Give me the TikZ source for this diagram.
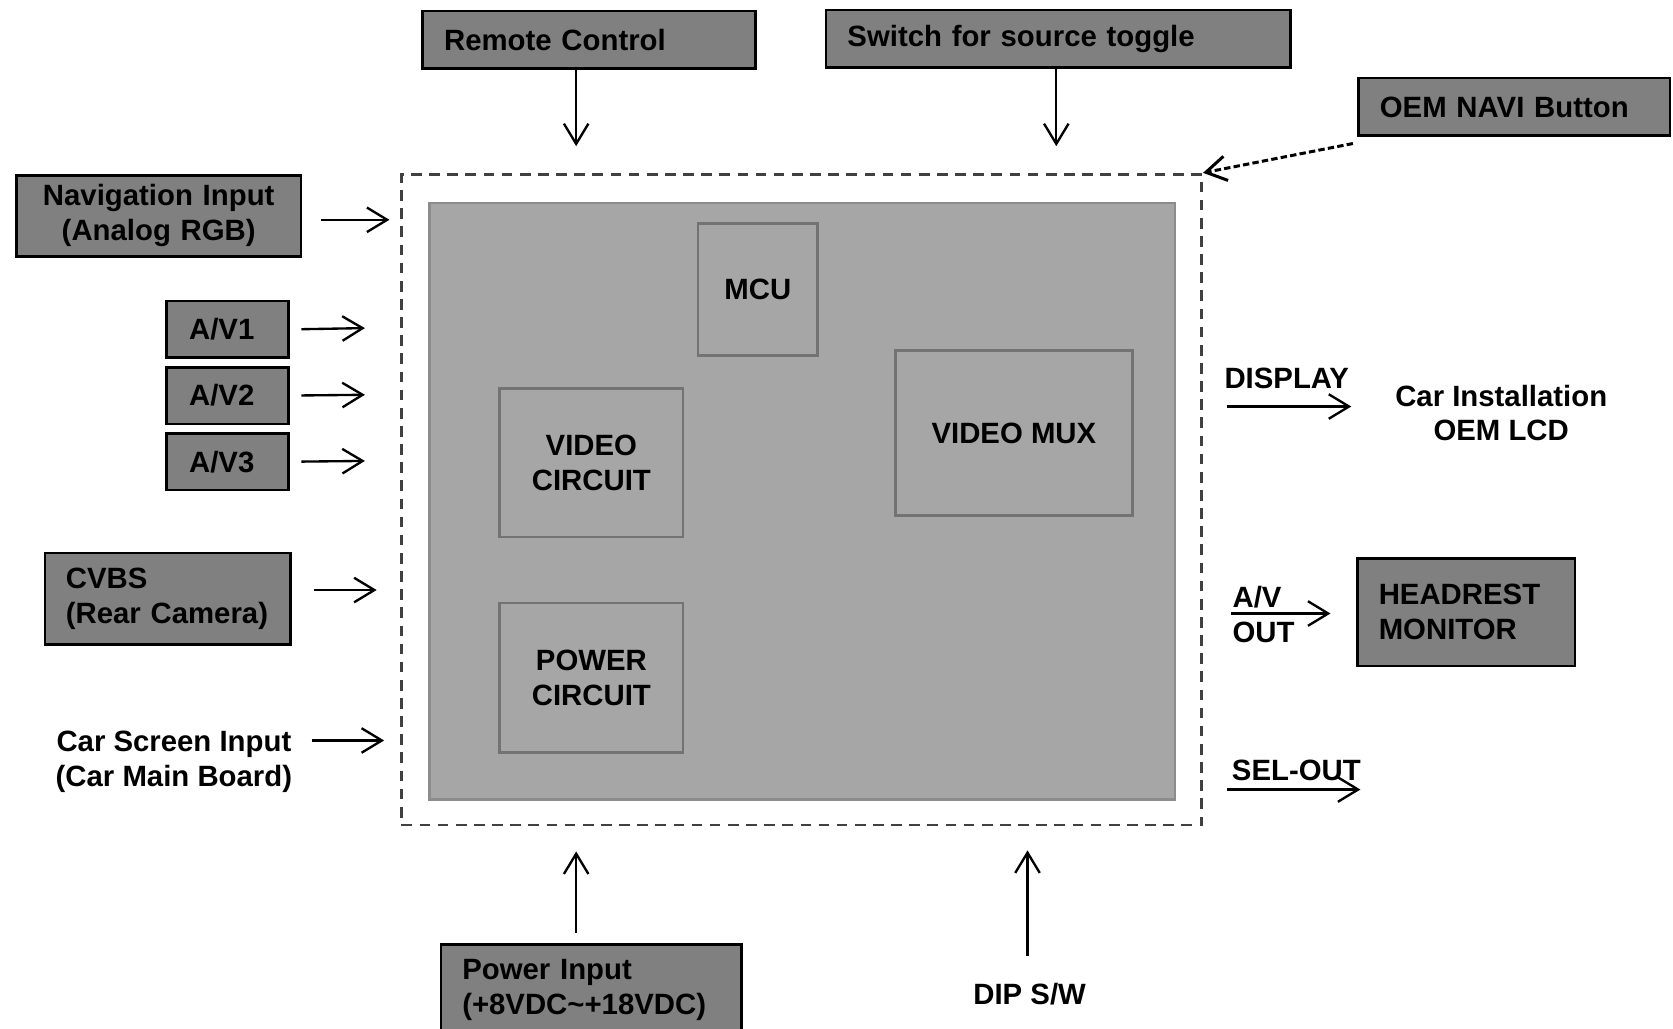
\documentclass[tikz,border=0pt]{standalone}
\usepackage{fontspec}
\setmainfont{Liberation Sans}
\usetikzlibrary{arrows.meta}
\definecolor{boxgray}{HTML}{808080}
\definecolor{boardgray}{HTML}{A6A6A6}
\definecolor{edgegray}{HTML}{737373}
\definecolor{rimgray}{HTML}{8C8C8C}
\definecolor{dashgray}{HTML}{404040}
\begin{document}
\begin{tikzpicture}[x=1pt, y=-1pt, font=\fontsize{27.5}{32.5}\selectfont\bfseries, >={Straight Barb[length=19pt, width=23pt]},
  srcbox/.style={draw=black, line width=2.5pt, fill=boxgray, anchor=north west, inner xsep=20pt, inner ysep=0pt, align=left},
  block/.style={draw=edgegray, line width=2.5pt, fill=boardgray, anchor=north west, align=center, inner sep=0pt},
  lbl/.style={inner sep=0pt, align=center},
  arr/.style={->, line width=2.2pt},
  dasharr/.style={->, line width=2.8pt, dash pattern=on 6pt off 3pt}]
\useasboundingbox (0,0) rectangle (1568,964);
\clip (0,0) rectangle (1568,964);
\node[draw=dashgray, line width=2.5pt, dash pattern=on 10pt off 7pt, anchor=north west, minimum width=750pt, minimum height=610pt] (unit) at (375,162) {};
\node[draw=rimgray, line width=2.5pt, fill=boardgray, anchor=north west, minimum width=699pt, minimum height=559pt] (board) at (401,189) {};
\node[block, minimum width=112pt, minimum height=124pt] (mcu) at (653,208) {MCU};
\node[block, minimum width=172pt, minimum height=139pt] (vidc) at (467,363) {VIDEO\\CIRCUIT};
\node[block, minimum width=172pt, minimum height=140pt] (pwrc) at (467,564) {POWER\\CIRCUIT};
\node[block, minimum width=222pt, minimum height=155pt] (mux) at (838,327) {VIDEO MUX};
\node[srcbox, text width=272pt, minimum height=54pt] (remote) at (395,9) {Remote Control};
\node[srcbox, text width=395pt, minimum height=54pt] (switch) at (773,8) {Switch for source toggle};
\node[srcbox, text width=252pt, minimum height=54pt] (navi) at (1272,72) {OEM NAVI Button};
\node[srcbox, inner xsep=14pt, text width=239pt, minimum height=76pt, align=center] (nav) at (14,163) {Navigation Input\\(Analog RGB)};
\node[srcbox, text width=191pt, inner xsep=19.5pt, minimum height=86pt] (cvbs) at (41,517) {CVBS\\(Rear Camera)};
\node[srcbox, text width=242pt, minimum height=85pt] (power) at (412,884) {Power Input\\(+8VDC\textasciitilde+18VDC)};
\node[srcbox, text width=164pt, minimum height=101pt] (head) at (1271,522) {HEADREST\\MONITOR};
\node[lbl] (carscr) at (163,714) {Car Screen Input\\(Car Main Board)};
\node[lbl] (dip) at (965,932) {DIP S/W};
\node[lbl] (disp) at (1206,355) {DISPLAY};
\node[lbl] (lcd) at (1407,387) {Car Installation\\OEM LCD};
\node[lbl, anchor=west, align=left] (avout) at (1155,576) {A/V\\OUT};
\node[lbl] (sel) at (1215,722) {SEL-OUT};
\foreach \i/\t/\c in {1/281/307.5, 2/343/370, 3/405/432} {
  \node[srcbox, inner xsep=21pt, text width=72pt, minimum height=53pt] (av\i) at (155,\t) {A/V\i};
  \coordinate (avin\i) at (342,\c);
  \draw[arr, shorten <=11pt] (av\i.east) -- (avin\i);
}
\coordinate (rcin) at (540,137);
\draw[arr] (rcin |- remote.south) -- (rcin);
\coordinate (swin) at (990,137);
\draw[arr] (swin |- switch.south) -- (swin);
\draw[dasharr] ([shift={(-4,6)}]navi.south west) -- (unit.north east);
\coordinate (navin) at (365,206);
\draw[arr, shorten <=17pt] (navin -| nav.east) -- (navin);
\coordinate (cvin) at (353,553);
\draw[arr, shorten <=21pt] (cvin -| cvbs.east) -- (cvin);
\coordinate (csin) at (360,694);
\draw[arr, shorten <=18pt] (csin -| carscr.east) -- (csin);
\coordinate (pwin) at (540,798);
\draw[arr, shorten <=10pt] (pwin |- power.north) -- (pwin);
\coordinate (dipin) at (963,797);
\draw[arr, shorten <=26pt] (dipin |- dip.north) -- (dipin);
\coordinate (dispout) at (1150,381);
\draw[arr, shorten >=41pt] (dispout) -- (dispout -| lcd.west);
\coordinate (avsig) at (1154,575);
\draw[arr, shorten >=24pt] (avsig) -- (avsig -| head.west);
\coordinate (selA) at (1150,740);
\coordinate (selB) at (1275,740);
\draw[arr] (selA) -- (selB);
\end{tikzpicture}
\end{document}
